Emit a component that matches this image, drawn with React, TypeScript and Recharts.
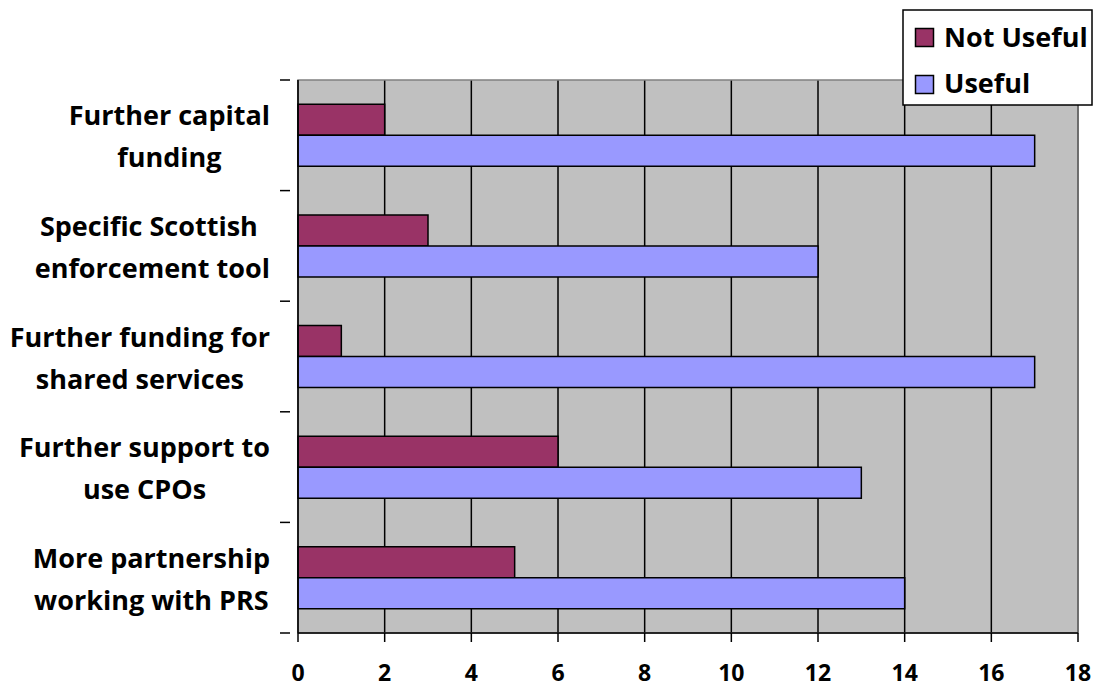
import React from "react";
import { BarChart, Bar, XAxis, YAxis, CartesianGrid, Legend, ReferenceArea } from "recharts";

const categories = [
  "Further capital|funding",
  "Specific Scottish |enforcement tool",
  "Further funding for|shared services",
  "Further support to|use CPOs",
  "More partnership|working with PRS",
];
const notUseful = [2, 3, 1, 6, 5];
const useful = [17, 12, 17, 13, 14];
const xTicks = [0, 2, 4, 6, 8, 10, 12, 14, 16, 18];
const seriesNames = ["Not Useful", "Useful"];
const seriesColors = ["#993366", "#9999FF"];

const data = categories.map((c, i) => ({ name: c, notUseful: notUseful[i], useful: useful[i] }));

const W = 1095;
const H = 689;
const M = { top: 80, right: 17, bottom: 0, left: 0 };
const XH = 56;
const YW = 298;
const FONT = "'Open Sans', sans-serif";
const FS = 27;
const band = (H - M.top - M.bottom - XH) / categories.length;

function measure(t: string) {
  const c = document.createElement("canvas").getContext("2d");
  if (!c) return t.length * 14;
  c.font = `bold ${FS}px 'Open Sans'`;
  return c.measureText(t).width;
}

const YTick = (props: any) => {
  const { x, y, payload, index } = props;
  const lines = String(payload.value).split("|");
  const widths = lines.map(measure);
  const maxW = Math.max(...widths);
  const right = 270;
  const cx = right - maxW / 2;
  return (
    <g>
      <line x1={x - 10} x2={x} y1={y - band / 2} y2={y - band / 2} stroke="#000" strokeWidth={1.5} />
      {index === categories.length - 1 && (
        <line x1={x - 10} x2={x} y1={y + band / 2} y2={y + band / 2} stroke="#000" strokeWidth={1.5} />
      )}
      {lines.map((l, i) => (
        <text
          key={i}
          x={cx - widths[i] / 2}
          y={y - 10 + i * 42}
          textAnchor="start"
          fontFamily={FONT}
          fontWeight="bold"
          fontSize={FS}
          fill="#000"
          style={{ whiteSpace: "pre" }}
        >
          {l}
        </text>
      ))}
    </g>
  );
};

const XTick = (props: any) => {
  const { x, payload } = props;
  return (
    <text x={x} y={681} textAnchor="middle" fontFamily={FONT} fontWeight="bold" fontSize={23} fill="#000">
      {payload.value}
    </text>
  );
};

const LegendBox = () => (
  <svg
    width={W}
    height={120}
    style={{ position: "absolute", left: 0, top: 0, overflow: "visible" }}
  >
    <rect x={903} y={10} width={189} height={95} fill="#fff" stroke="#000" strokeWidth={1.5} />
    {seriesNames.map((n, i) => (
      <g key={n}>
        <rect x={915.5} y={28.5 + i * 47} width={18} height={18} fill={seriesColors[i]} stroke="#000" strokeWidth={1.5} />
        <text x={944} y={47 + i * 46} fontFamily={FONT} fontWeight="bold" fontSize={27} fill="#000">
          {n}
        </text>
      </g>
    ))}
  </svg>
);

export default function App() {
  return (
    <div style={{ position: "absolute", left: 0, top: 0, width: W, height: H, background: "#fff" }}>
      <BarChart
        width={W}
        height={H}
        data={data}
        layout="vertical"
        margin={M}
        barCategoryGap="22%"
        barGap={0}
      >
        <CartesianGrid horizontal={false} vertical={true} stroke="#000" strokeWidth={1.5} fill="#C0C0C0" strokeOpacity={1} />
        <ReferenceArea x1={0} x2={18} fill="none" stroke="#808080" strokeWidth={1.5} ifOverflow="visible" />
        <XAxis
          type="number"
          domain={[0, 18]}
          ticks={xTicks}
          interval={0}
          height={XH}
          axisLine={{ stroke: "#000", strokeWidth: 1.5 }}
          tickLine={{ stroke: "#000", strokeWidth: 1.5 }}
          tickSize={9}
          tick={<XTick />}
        />
        <YAxis
          type="category"
          dataKey="name"
          width={YW}
          axisLine={{ stroke: "#000", strokeWidth: 1.5 }}
          tickLine={false}
          tick={<YTick />}
          interval={0}
        />
        <Legend content={<LegendBox />} wrapperStyle={{ position: "absolute", left: 0, top: 0, width: 0, height: 0 }} />
        <Bar dataKey="notUseful" name={seriesNames[0]} fill={seriesColors[0]} stroke="#000" strokeWidth={1.5} isAnimationActive={false} />
        <Bar dataKey="useful" name={seriesNames[1]} fill={seriesColors[1]} stroke="#000" strokeWidth={1.5} isAnimationActive={false} />
      </BarChart>
    </div>
  );
}
